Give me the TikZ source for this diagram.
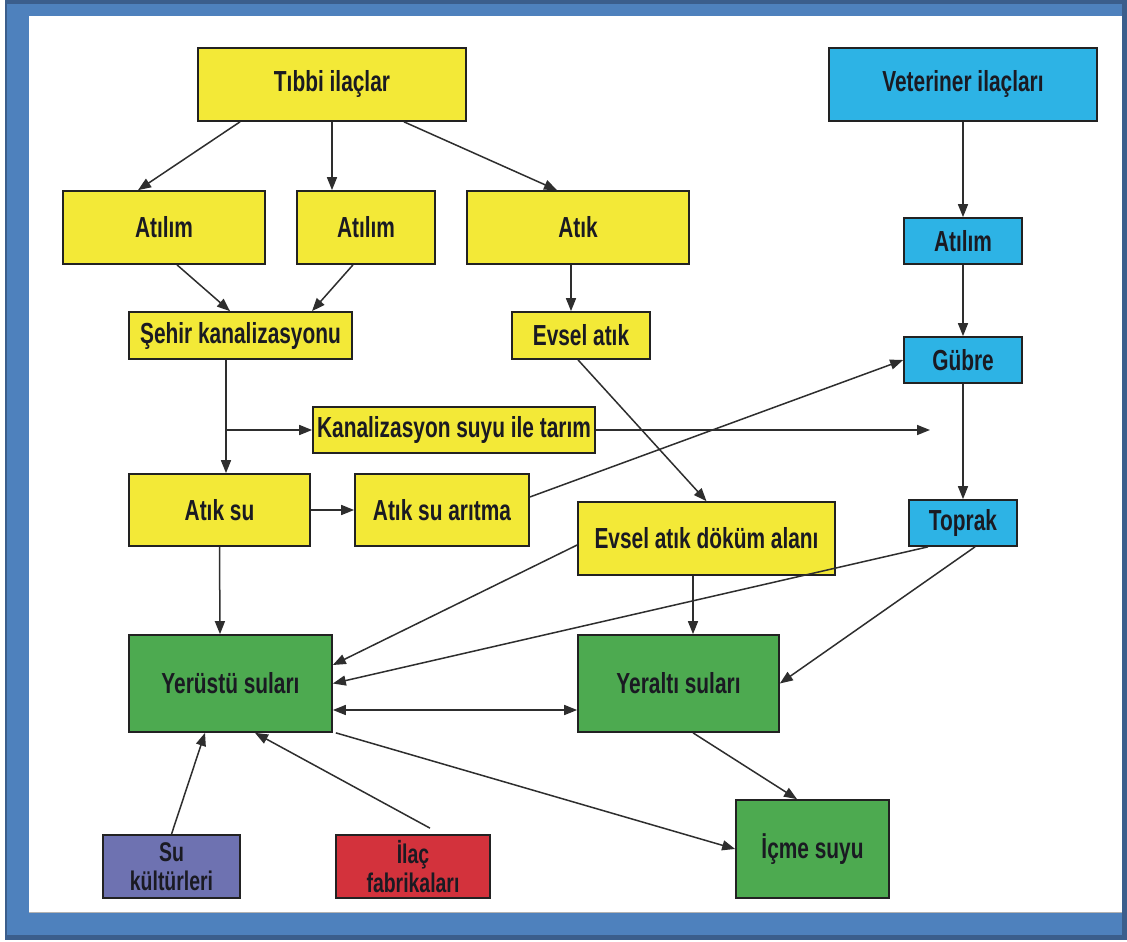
\documentclass[tikz,border=0pt]{standalone}
\usepackage{fontspec}
\setmainfont{Liberation Sans}[FakeStretch=0.72]
\usetikzlibrary{arrows.meta}
\definecolor{ylw}{HTML}{F3E937}
\definecolor{cyn}{HTML}{2DB3E5}
\definecolor{grn}{HTML}{4DAA50}
\definecolor{prp}{HTML}{6E72B1}
\definecolor{rdd}{HTML}{D3323C}
\definecolor{frdark}{HTML}{3B5E8C}
\definecolor{frmid}{HTML}{4E81BD}
\definecolor{edge}{HTML}{222222}
\definecolor{arr}{HTML}{2E2E2E}
\definecolor{txt}{HTML}{1A1A22}
\tikzset{
  box/.style={draw=edge, line width=1.7pt, inner sep=0pt, align=center,
    text=txt, font=\fontsize{29pt}{25pt}\selectfont\bfseries},
  twoline/.style={font=\fontsize{27pt}{29pt}\selectfont\bfseries},
  ybox/.style={box, fill=ylw},
  bbox/.style={box, fill=cyn},
  gbox/.style={box, fill=grn},
  pbox/.style={box, fill=prp},
  rbox/.style={box, fill=rdd},
  conn/.style={draw=arr, line width=1.5pt, -{Triangle[length=13pt,width=10pt]}},
  biconn/.style={draw=arr, line width=1.5pt, {Triangle[length=13pt,width=10pt]}-{Triangle[length=13pt,width=10pt]}}
}
\begin{document}
\begin{tikzpicture}[x=1pt,y=-1pt]
% frame
\useasboundingbox (0,0) rectangle (1127,942);
\fill[white] (0,0) rectangle (1127,942);
\fill[frdark] (5,0) rectangle (1127,940);
\fill[frmid] (7,4) rectangle (1122,935);
\fill[white] (29,16) rectangle (1122,912);
\draw[black!30, line width=0.8pt] (29,912) -- (1122,912);

% nodes
\node[ybox, minimum width=268pt, minimum height=73pt] (tibbi) at (332,84.5) {Tıbbi ilaçlar};
\node[ybox, minimum width=202pt, minimum height=73pt] (atilimA) at (164,227.5) {Atılım};
\node[ybox, minimum width=138pt, minimum height=73pt] (atilimB) at (366,227.5) {Atılım};
\node[ybox, minimum width=222pt, minimum height=73pt] (atik) at (578,227.5) {Atık};
\node[ybox, minimum width=223pt, minimum height=47pt] (sehir) at (240.5,335.5) {Şehir kanalizasyonu};
\node[ybox, minimum width=138pt, minimum height=47pt] (evsel) at (581,335.5) {Evsel atık};
\node[bbox, minimum width=268pt, minimum height=73pt] (vet) at (963,84.5) {Veteriner ilaçları};
\node[bbox, minimum width=118pt, minimum height=46pt] (vatilim) at (963,241) {Atılım};
\node[bbox, minimum width=118pt, minimum height=46pt] (gubre) at (963,360) {Gübre};
\node[ybox, minimum width=282pt, minimum height=46pt] (kanal) at (454,430) {Kanalizasyon suyu ile tarım};
\node[ybox, minimum width=181pt, minimum height=72pt] (atiksu) at (219.5,510) {Atık su};
\node[ybox, minimum width=174pt, minimum height=72pt] (aritma) at (442,510) {Atık su arıtma};
\node[ybox, minimum width=257pt, minimum height=73pt] (dokum) at (706.5,538.5) {Evsel atık döküm alanı};
\node[bbox, minimum width=108pt, minimum height=46pt] (toprak) at (963,523) {Toprak};
\node[gbox, minimum width=203pt, minimum height=97pt] (yerustu) at (230.5,683.5) {Yerüstü suları};
\node[gbox, minimum width=201pt, minimum height=97pt] (yeralti) at (678.5,683.5) {Yeraltı suları};
\node[pbox, twoline, minimum width=137pt, minimum height=63pt] (sukultur) at (171.5,866.5) {Su\\kültürleri};
\node[rbox, twoline, minimum width=154pt, minimum height=63pt] (ilac) at (413,866.5) {İlaç\\fabrikaları};
\node[gbox, minimum width=153pt, minimum height=98pt] (icme) at (812.5,849) {İçme suyu};

\coordinate (branch) at (226,430);
\coordinate (tarimend) at (930,430);

% connectors
\draw[conn] ([xshift=-92pt]tibbi.south) -- ([xshift=-26pt]atilimA.north);
\draw[conn] (tibbi.south) -- ([xshift=-34pt]atilimB.north);
\draw[conn] ([xshift=72pt]tibbi.south) -- ([xshift=-21pt]atik.north);
\draw[conn] ([xshift=13pt]atilimA.south) -- ([xshift=-10.5pt]sehir.north);
\draw[conn] ([xshift=-13pt]atilimB.south) -- ([xshift=71.5pt]sehir.north);
\draw[conn] ([xshift=-7pt]atik.south) -- ([xshift=-10pt]evsel.north);
\draw[conn] ([xshift=-14.5pt]sehir.south) -- ([xshift=6.5pt]atiksu.north);
\draw[conn] (branch) -- (kanal.west);
\draw[conn] (kanal.east) -- (tarimend);
\draw[conn] ([xshift=-3pt]evsel.south) -- (dokum.north);
\draw[conn] ([yshift=13pt]aritma.east) -- (gubre.west);
\draw[conn] (atiksu.east) -- (aritma.west);
\draw[conn] (atiksu.south) -- ([xshift=-10.5pt]yerustu.north);
\draw[conn] ([yshift=-6.5pt]dokum.west) -- ([yshift=18.5pt]yerustu.east);
\draw[conn] ([xshift=-35pt]toprak.south) -- (yerustu.east);
\draw[conn] ([xshift=-13.5pt]dokum.south) -- ([xshift=14.5pt]yeralti.north);
\draw[conn] ([xshift=12pt]toprak.south) -- (yeralti.east);
\draw[biconn] ([yshift=-26.5pt]yerustu.east) -- ([yshift=-26.5pt]yeralti.west);
\draw[conn] ([xshift=3pt]yerustu.south east) -- (icme.west);
\draw[conn] ([xshift=14.5pt]yeralti.south) -- ([xshift=-15.5pt]icme.north);
\draw[conn] (sukultur.north) -- ([xshift=-25.5pt]yerustu.south);
\draw[conn] ([xshift=17pt,yshift=6pt]ilac.north) -- ([xshift=24.5pt]yerustu.south);
\draw[conn] (vet.south) -- (vatilim.north);
\draw[conn] (vatilim.south) -- (gubre.north);
\draw[conn] (gubre.south) -- (toprak.north);
\end{tikzpicture}
\end{document}
